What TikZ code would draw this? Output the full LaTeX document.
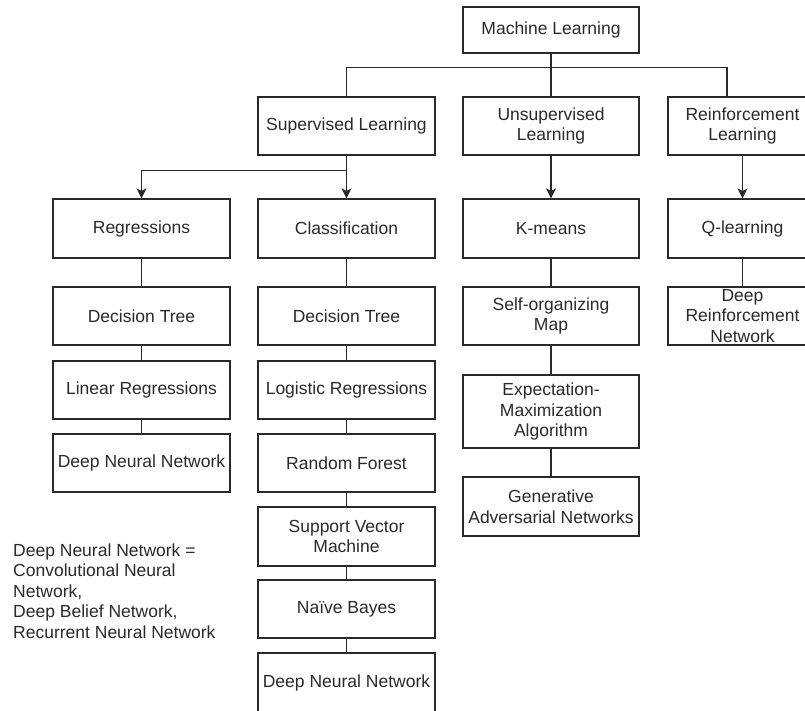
\documentclass[tikz,border=0pt]{standalone}
\usepackage{fontspec}
\setmainfont{Liberation Sans}
\usetikzlibrary{arrows.meta}
\definecolor{ink}{HTML}{2A2A2A}
\begin{document}
\begin{tikzpicture}[x=1pt,y=-1pt,
  every node/.style={font=\fontsize{17.5pt}{20.5pt}\selectfont, text=ink},
  box/.style={draw=ink, line width=1.2pt, inner sep=0pt, align=center,
              minimum width=177pt, minimum height=58pt},
  boxD/.style={box, minimum width=149pt},
  link/.style={draw=ink, line width=1.2pt},
  arr/.style={link, -{Stealth[length=10pt,width=10pt,inset=2.5pt]}}]
\useasboundingbox (0,0) rectangle (805,710);
\clip (0,0) rectangle (805,710);
\fill[white] (0,0) rectangle (805,710);

% top level
\node[box, minimum width=176pt, minimum height=46pt] (ml) at (551,30) {Machine Learning};

% learning paradigms
\node[box] (sup) at (346.5,126) {Supervised Learning};
\node[box, minimum width=176pt] (uns) at (551,126) {Unsupervised\\Learning};
\node[boxD] (rei) at (742.5,126) {Reinforcement\\Learning};

% supervised: regressions column
\node[box, minimum height=59pt] (reg) at (141.5,228.5) {Regressions};
\node[box] (rdt) at (141.5,316) {Decision Tree};
\node[box] (lin) at (141.5,390) {Linear Regressions};
\node[box] (rdn) at (141.5,463) {Deep Neural Network};

% supervised: classification column
\node[box, minimum height=59pt] (cla) at (346.5,228.5) {Classification};
\node[box] (cdt) at (346.5,316) {Decision Tree};
\node[box] (log) at (346.5,390) {Logistic Regressions};
\node[box] (rf)  at (346.5,463) {Random Forest};
\node[box, minimum height=59pt] (svm) at (346.5,536.5) {Support Vector\\Machine};
\node[box] (nb)  at (346.5,609) {Naïve Bayes};
\node[box, minimum height=59pt] (cdn) at (346.5,682.5) {Deep Neural Network};

% unsupervised column
\node[box, minimum width=176pt, minimum height=59pt] (km) at (551,228.5) {K-means};
\node[box, minimum width=176pt] (som) at (551,316) {Self-organizing\\Map};
\node[box, minimum width=176pt, minimum height=73pt] (em) at (551,411.5) {Expectation-\\Maximization\\Algorithm};
\node[box, minimum width=176pt, minimum height=59pt] (gan) at (551,506.5) {Generative\\Adversarial Networks};

% reinforcement column
\node[boxD, minimum height=59pt] (ql) at (742.5,228.5) {Q-learning};
\node[boxD] (drn) at (742.5,316) {Deep\\Reinforcement\\Network};

% note on deep neural networks (anchored at the last line's baseline)
\node[anchor=base west, align=left, inner sep=0pt] (note) at (13,638)
  {Deep Neural Network =\\Convolutional Neural\\Network,\\Deep Belief Network,\\Recurrent Neural Network};

% tree from the root
\coordinate (reiin) at (727,97);
\draw[link] (ml.south) -- (uns.north);
\draw[link] (sup.north) -- ++(0,-29) -| (reiin);

% supervised split
\draw[arr] (sup.south) -- (cla.north);
\draw[arr] (sup.south) -- ++(0,15) -| (reg.north);
\draw[arr] (uns.south) -- (km.north);
\draw[arr] (rei.south) -- (ql.north);

% column chains
\draw[link] (reg) -- (rdt) (rdt) -- (lin) (lin) -- (rdn);
\draw[link] (cla) -- (cdt) (cdt) -- (log) (log) -- (rf) (rf) -- (svm) (svm) -- (nb) (nb) -- (cdn);
\draw[link] (km) -- (som) (som) -- (em) (em) -- (gan);
\draw[link] (ql) -- (drn);
\end{tikzpicture}
\end{document}
